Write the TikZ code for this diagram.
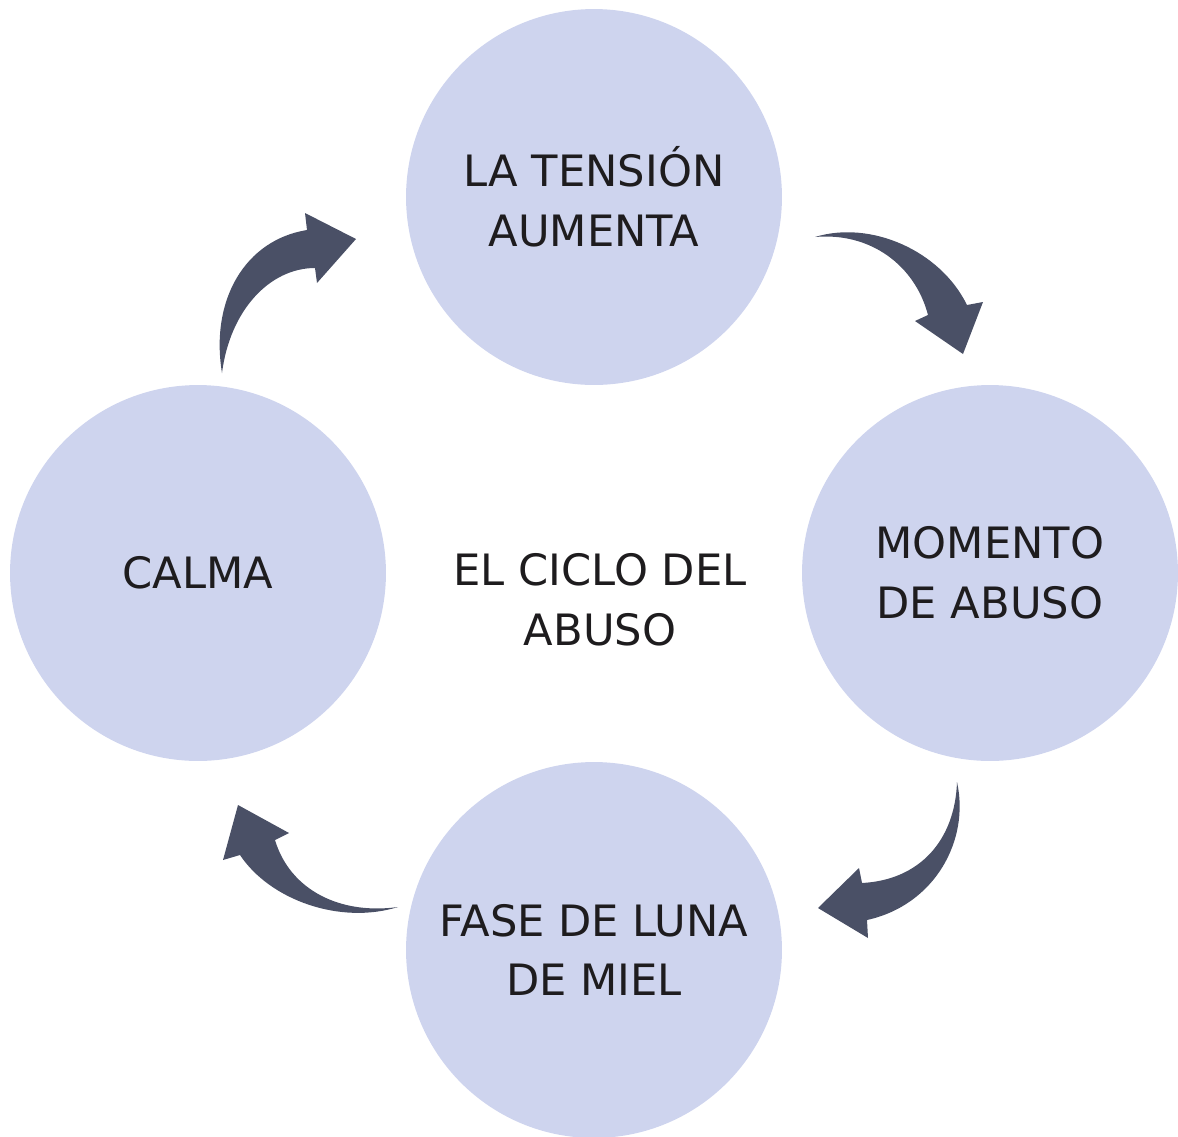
\documentclass[tikz,border=0pt]{standalone}
\usepackage{fontspec}
\setmainfont{DejaVu Sans}
\usepackage{tikz}

\definecolor{fase}{HTML}{CED4EE}
\definecolor{flecha}{HTML}{4A5066}
\definecolor{texto}{HTML}{1E1C1E}

\tikzset{
  fasebox/.style={circle, fill=fase, draw=none, inner sep=0pt, minimum size=7.52cm,
    align=center, text=texto, font=\fontsize{24.6}{34}\selectfont},
  flechafill/.style={fill=flecha, draw=none}
}

\begin{document}
\begin{tikzpicture}[x=0.02cm, y=-0.02cm]
\useasboundingbox (0,0) rectangle (1178,1137);
\node[fasebox] (tension) at (594,197){LA TENSIÓN\\AUMENTA};
\node[fasebox] (momento) at (990,573){MOMENTO\\DE ABUSO};
\node[fasebox] (miel) at (594,950){FASE DE LUNA\\DE MIEL};
\node[fasebox] (calma) at (198,573){CALMA};
\node[align=center, text=texto, font=\fontsize{24.6}{34}\selectfont] (ciclo) at (600,600){EL CICLO DEL\\ABUSO};
% flechas curvas
\fill[flechafill] (222,373) .. controls (210,300) and (245,240) .. (307,230) -- (305,213) -- (356,239) -- (317,283) -- (315,268) .. controls (270,268) and (230,310) .. (222,373) -- cycle;
\fill[flechafill] (815,237) .. controls (870,220) and (940,250) .. (967,305) -- (983,302) -- (963,354) -- (915,321) -- (928,315) .. controls (915,265) and (870,232) .. (815,237) -- cycle;
\fill[flechafill] (957,782) .. controls (970,840) and (935,905) .. (867,920) -- (868,938) -- (818,908) -- (859,868) -- (862,883) .. controls (920,880) and (955,840) .. (957,782) -- cycle;
\fill[flechafill] (398,907) .. controls (340,925) and (270,900) .. (240,855) -- (223,860) -- (238,805) -- (289,833) -- (275,840) .. controls (290,890) and (340,915) .. (398,907) -- cycle;
\end{tikzpicture}
\end{document}
